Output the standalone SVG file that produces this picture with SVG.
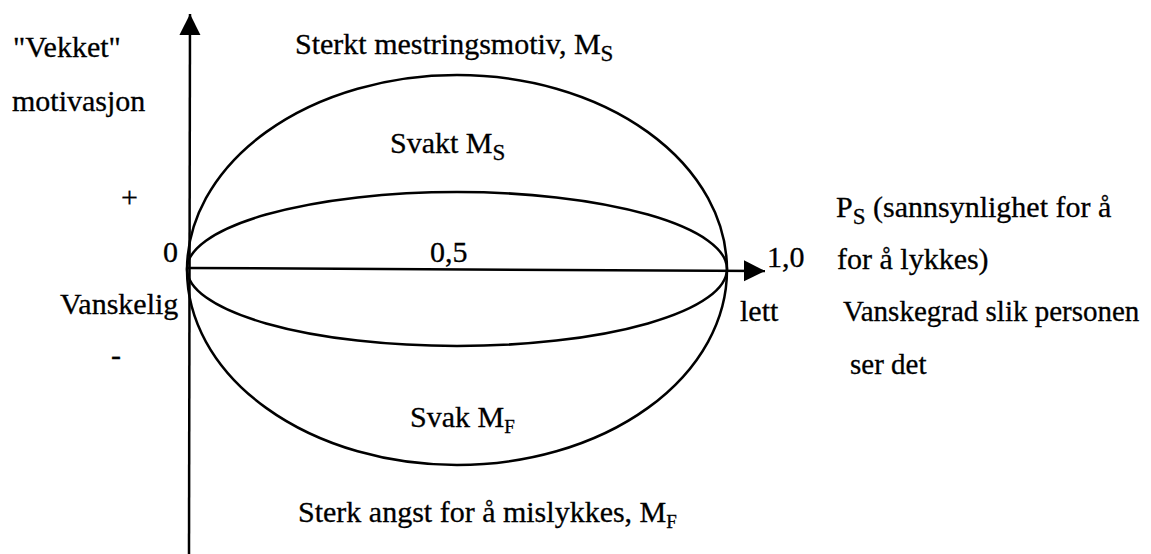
<svg xmlns="http://www.w3.org/2000/svg" width="1151" height="554" viewBox="0 0 1151 554">
<defs>
<style>
text{font-family:'Liberation Serif','Times New Roman','DejaVu Serif',serif;font-size:30px;fill:#000;stroke:#000;stroke-width:0.3}
.curve{fill:none;stroke:#000;stroke-width:2.5}
.axis{fill:none;stroke:#000;stroke-width:2.5}
.sub{font-size:23px}
.subf{font-size:19px}
.narrow{font-size:29px}
</style>
<marker id="arrow" viewBox="0 0 10 10" refX="10" refY="5" markerWidth="8.5" markerHeight="8.5" markerUnits="strokeWidth" orient="auto">
<path d="M0,0 L10,5 L0,10 Z" fill="#000"/>
</marker>
</defs>
<rect width="1151" height="554" fill="#fff"/>
<g id="ellipses">
<ellipse id="outer" class="curve" cx="457" cy="270" rx="270" ry="195"/>
<ellipse id="inner" class="curve" cx="457" cy="269" rx="270" ry="77"/>
</g>
<g id="connectors">
<line id="y-axis" class="axis" x1="189" y1="554" x2="190" y2="14" marker-end="url(#arrow)"/>
<line id="x-axis" class="axis" x1="188" y1="268" x2="765" y2="271" marker-end="url(#arrow)"/>
</g>
<g id="label-vekket"><text x="13" y="57">"Vekket"</text><text x="12" y="111">motivasjon</text></g>
<g id="label-sterkt"><text x="295" y="54">Sterkt mestringsmotiv, M<tspan class="sub" dy="7">S</tspan></text></g>
<g id="label-svakt"><text x="390" y="153">Svakt M<tspan class="sub" dy="7">S</tspan></text></g>
<g id="label-plus"><text x="121" y="207">+</text></g>
<g id="label-zero"><text x="163" y="262">0</text></g>
<g id="label-half"><text x="430" y="262">0,5</text></g>
<g id="label-one"><text x="767" y="267">1,0</text></g>
<g id="label-vanskelig"><text x="60" y="314">Vanskelig</text></g>
<g id="label-minus"><text x="111" y="365">-</text></g>
<g id="label-lett"><text x="740" y="321">lett</text></g>
<g id="label-ps"><text x="836" y="217">P<tspan class="sub" dy="7">S</tspan><tspan dy="-7"> (sannsynlighet for å</tspan></text><text x="837" y="269">for å lykkes)</text></g>
<g id="label-vanskegrad"><text class="narrow" x="843" y="321">Vanskegrad slik personen</text><text class="narrow" x="850" y="374">ser det</text></g>
<g id="label-svak"><text x="410" y="427">Svak M<tspan class="subf" dy="6">F</tspan></text></g>
<g id="label-sterk"><text x="298" y="522">Sterk angst for å mislykkes, M<tspan class="subf" dy="6">F</tspan></text></g>
</svg>
